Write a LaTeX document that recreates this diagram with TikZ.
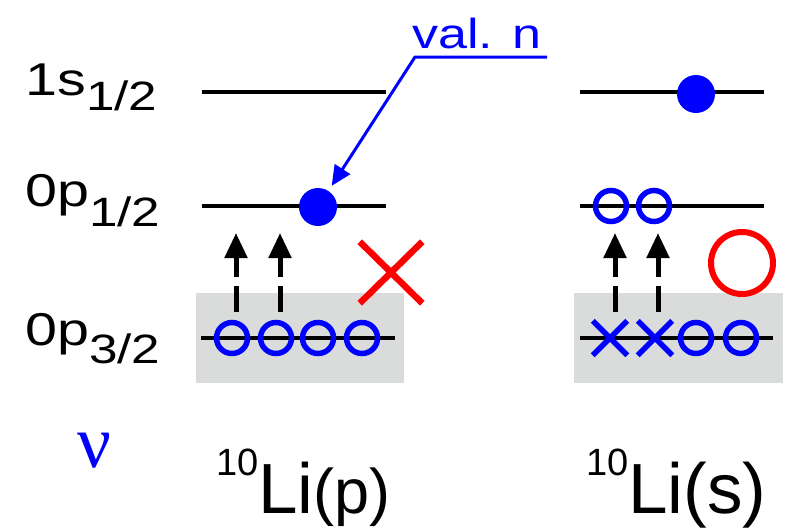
\documentclass[tikz,border=0pt]{standalone}
\usepackage{fontspec}
\usepackage{graphicx}
\setmainfont{Liberation Sans}
\newfontfamily\nufont{Liberation Serif}
\usetikzlibrary{arrows.meta,shapes.misc}
\definecolor{coregray}{RGB}{217,220,218}
\definecolor{pblue}{RGB}{0,0,255}
\definecolor{pred}{RGB}{255,0,0}
\newcommand{\lvmain}[1]{\scalebox{1.25}[1]{\fontsize{46}{46}\selectfont #1}}
\newcommand{\lvsub}[1]{\scalebox{1.25}[1]{\fontsize{41}{41}\selectfont #1}}
\begin{document}
\begin{tikzpicture}[x=1pt,y=-1pt,
  levelline/.style={line width=4.5pt},
  hole/.style={circle,draw=pblue,line width=5.5pt,minimum size=31pt,inner sep=0pt},
  valdot/.style={circle,fill=pblue,minimum size=38pt,inner sep=0pt},
  blockx/.style={cross out,draw=pblue,line width=5.5pt,minimum size=29pt,inner sep=0pt},
  excite/.style={line width=5pt,dash pattern=on 26pt off 9pt,-{Triangle[length=25pt,width=22pt]}},
  lbl/.style={inner sep=0pt,anchor=base west}]
\useasboundingbox (0,0) rectangle (812,528);
% shaded core blocks
\fill[coregray] (196,293) rectangle (404,383);
\fill[coregray] (574,293) rectangle (783,383);
% level lines
\coordinate (a1) at (202,92);  \coordinate (a2) at (386,92);
\coordinate (b1) at (202,206); \coordinate (b2) at (386,206);
\coordinate (c1) at (201,338); \coordinate (c2) at (395,338);
\coordinate (d1) at (580,92);  \coordinate (d2) at (764,92);
\coordinate (e1) at (580,206); \coordinate (e2) at (764,206);
\coordinate (f1) at (580,338); \coordinate (f2) at (773,338);
\draw[levelline] (a1) -- (a2);
\draw[levelline] (b1) -- (b2);
\draw[levelline] (c1) -- (c2);
\draw[levelline] (d1) -- (d2);
\draw[levelline] (e1) -- (e2);
\draw[levelline] (f1) -- (f2);
% left: 10Li(p)
\node[valdot] (dotL) at (318,207) {};
\node[hole] (hL1) at (232,338) {};
\node[hole] (hL2) at (276,338) {};
\node[hole] (hL3) at (318,338) {};
\node[hole] (hL4) at (362,338) {};
\coordinate (sL1) at (236,312); \coordinate (tL1) at (236,233);
\coordinate (sL2) at (280,312); \coordinate (tL2) at (280,233);
\draw[excite] (sL1) -- (tL1);
\draw[excite] (sL2) -- (tL2);
\node[cross out,draw=pred,line width=6.5pt,minimum width=56pt,minimum height=55pt,inner sep=0pt] (no) at (391,272.5) {};
% right: 10Li(s)
\node[valdot] (dotR) at (696,94) {};
\node[hole] (hR1) at (611,206) {};
\node[hole] (hR2) at (654,206) {};
\node[blockx] (xR1) at (610,338) {};
\node[blockx] (xR2) at (655,338) {};
\node[hole] (hR3) at (696,338) {};
\node[hole] (hR4) at (741,338) {};
\coordinate (sR1) at (615,312); \coordinate (tR1) at (615,233);
\coordinate (sR2) at (658,312); \coordinate (tR2) at (658,233);
\draw[excite] (sR1) -- (tR1);
\draw[excite] (sR2) -- (tR2);
\node[circle,draw=pred,line width=6pt,minimum size=62pt,inner sep=0pt] (yes) at (742,263) {};
% valence neutron label
\node[lbl,text=pblue] (valn) at (412,48) {\scalebox{1.24}[1]{\fontsize{42}{42}\selectfont val. n}};
\coordinate (lead2) at (547,57);
\coordinate (lead1) at (415,57);
\draw[pblue,line width=3pt,line join=miter,shorten >=6pt,-{Triangle[length=20pt,width=18pt]}] (lead2) -- (lead1) -- (dotL);
% level labels
\node[lbl] (l1s) at (25,95) {\lvmain{1s}};
\node[lbl] (l1ssub) at (86,110) {\lvsub{1/2}};
\node[lbl] (l0p1) at (25,206) {\lvmain{0p}};
\node[lbl] (l0p1sub) at (89,226) {\lvsub{1/2}};
\node[lbl] (l0p3) at (25,345) {\lvmain{0p}};
\node[lbl] (l0p3sub) at (89,363) {\lvsub{3/2}};
% nu
\node[lbl,text=pblue] (nu) at (77,467) {\nufont\fontsize{75}{75}\selectfont ν};
% nuclei labels
\node[lbl] (nucpsup) at (216,475) {\fontsize{38}{38}\selectfont 10};
\node[lbl] (nucp) at (258,513) {\fontsize{71}{71}\selectfont Li\fontsize{63}{63}\selectfont(p)};
\node[lbl] (nucssup) at (586,475) {\fontsize{38}{38}\selectfont 10};
\node[lbl] (nucs) at (628,513) {\fontsize{71}{71}\selectfont Li(s)};
\end{tikzpicture}
\end{document}
